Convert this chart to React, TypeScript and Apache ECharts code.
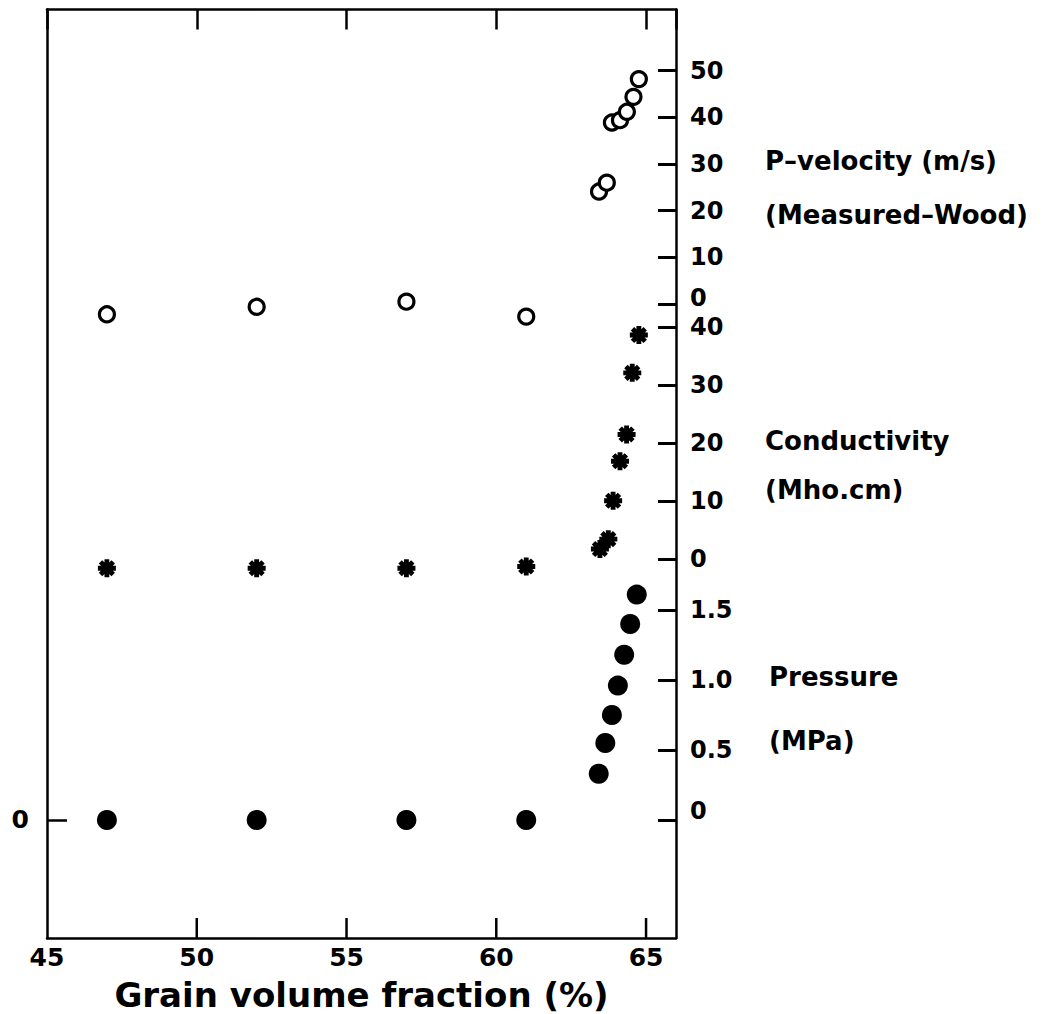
import React, { useEffect, useRef } from "react";
import * as echarts from "echarts";

// ---- axis ticks / labels ----
const X_LABELS = [45, 50, 55, 60, 65];
const X_INNER_TICKS = [50, 55, 60, 65];
const LEFT_TICKS = [0];
const PRESSURE_TICKS = [0, 0.5, 1.0, 1.5];
const COND_TICKS = [0, 10, 20, 30, 40];
const VEL_TICKS = [0, 10, 20, 30, 40, 50];

// ---- data ----
// plateau points (grain volume fraction %)
const plateauX = [47, 52, 57, 61];
const pressurePlateau = [0, 0, 0, 0];
const condPlateau = [-1.5, -1.5, -1.5, -1.2];
const velPlateau = [-2.2, -0.6, 0.5, -2.7];

// rising points
const pressureX = [63.42, 63.64, 63.86, 64.06, 64.27, 64.47, 64.69];
const pressureY = [0.33, 0.55, 0.75, 0.96, 1.18, 1.4, 1.61];

const condX = [63.46, 63.74, 63.9, 64.13, 64.35, 64.54, 64.76];
const condY = [1.8, 3.5, 10.1, 16.9, 21.5, 32.1, 38.6];

const velX = [63.43, 63.69, 63.86, 64.13, 64.36, 64.58, 64.76];
const velY = [24.1, 26.0, 38.9, 39.4, 41.2, 44.4, 48.2];

// ---- panel labels ----
const VEL_NAME = ["P–velocity (m/s)", "(Measured–Wood)"];
const COND_NAME = ["Conductivity", "(Mho.cm)"];
const PRESS_NAME = ["Pressure", "(MPa)"];
const X_NAME = "Grain volume fraction (%)";

const FONT = "DejaVu Sans";

function asteriskPath(): string {
  const L = 10;
  const W = 2.7;
  const parts: string[] = [];
  [0, 45, 90, 135].forEach((deg) => {
    const a = (deg * Math.PI) / 180;
    const c = Math.cos(a);
    const s = Math.sin(a);
    const pts = [
      [-L, -W],
      [L, -W],
      [L, W],
      [-L, W],
    ].map(([x, y]) => [x * c - y * s, x * s + y * c]);
    parts.push(
      "M" +
        pts.map((p) => p[0].toFixed(3) + "," + p[1].toFixed(3)).join("L") +
        "Z"
    );
  });
  return "path://" + parts.join("");
}

function zip(xs: number[], ys: number[]) {
  return xs.map((x, i) => [x, ys[i]]);
}

export default function App() {
  const ref = useRef<HTMLDivElement>(null);
  useEffect(() => {
    document.body.style.margin = "0";
    if (!ref.current) return;
    const chart = echarts.init(ref.current, undefined, { renderer: "svg" });
    const black = "#000";
    const line = { show: true, onZero: false, lineStyle: { color: black, width: 2.5 } };

    const rightAxis = (
      min: number,
      max: number,
      ticks: number[],
      fmt: (v: number) => string,
      showLine: boolean,
      zeroLift: number
    ) => ({
      type: "value",
      position: "right",
      min,
      max,
      axisLine: { show: showLine, onZero: false, lineStyle: { color: black, width: 2.5 } },
      splitLine: { show: false },
      axisTick: {
        show: true,
        inside: true,
        length: 18,
        customValues: ticks,
        lineStyle: { color: black, width: 3 },
      },
      axisLabel: {
        show: true,
        customValues: ticks,
        formatter: (v: number) => (v === 0 ? "{z|0}" : fmt(v)),
        margin: 14,
        color: black,
        fontFamily: FONT,
        fontWeight: "bold",
        fontSize: 24,
        rich: {
          z: {
            color: black,
            fontFamily: FONT,
            fontWeight: "bold",
            fontSize: 24,
            padding: [0, 0, zeroLift, 0],
          },
        },
      },
    });

    const pMin = -0.843, pMax = 5.789;
    const cMin = -65.09, cMax = 94.58;
    const vMin = -135.88, vMax = 63.12;

    const textEl = (txt: string, x: number, y: number) => ({
      type: "text",
      left: x,
      top: y - 15,
      style: {
        text: txt,
        fill: black,
        font: `bold 26px "${FONT}"`,
        textVerticalAlign: "top",
      },
    });

    chart.setOption({
      animation: false,
      backgroundColor: "#fff",
      grid: {
        left: 47,
        right: 367,
        top: 9.5,
        bottom: 76,
        containLabel: false,
        outerBoundsMode: "none",
      },
      xAxis: [
        {
          type: "value",
          position: "bottom",
          min: 45,
          max: 66,
          interval: 5,
          axisLine: line,
          splitLine: { show: false },
          axisTick: { show: false },
          axisLabel: {
            customValues: X_LABELS,
            margin: 7,
            color: black,
            fontFamily: FONT,
            fontWeight: "bold",
            fontSize: 25,
          },
          name: X_NAME,
          nameLocation: "middle",
          nameGap: 40,
          nameTextStyle: {
            color: black,
            fontFamily: FONT,
            fontWeight: "bold",
            fontSize: 34,
            lineHeight: 34,
          },
        },
        {
          type: "value",
          position: "top",
          min: 45,
          max: 66,
          interval: 5,
          axisLine: line,
          splitLine: { show: false },
          axisTick: {
            show: true,
            inside: true,
            length: 20,
            lineStyle: { color: black, width: 2.5 },
          },
          axisLabel: { show: false },
        },
      ],
      yAxis: [
        {
          type: "value",
          position: "left",
          min: pMin,
          max: pMax,
          axisLine: line,
          splitLine: { show: false },
          axisTick: {
            show: true,
            inside: true,
            length: 20,
            customValues: LEFT_TICKS,
            lineStyle: { color: black, width: 2.5 },
          },
          axisLabel: {
            customValues: LEFT_TICKS,
            margin: 18,
            color: black,
            fontFamily: FONT,
            fontWeight: "bold",
            fontSize: 25,
          },
        },
        rightAxis(pMin, pMax, PRESSURE_TICKS, (v) => v.toFixed(1), true, 18),
        rightAxis(cMin, cMax, COND_TICKS, (v) => String(v), false, 0),
        rightAxis(vMin, vMax, VEL_TICKS, (v) => String(v), false, 12),
      ],
      series: [
        {
          type: "scatter",
          name: "Pressure",
          xAxisIndex: 0,
          yAxisIndex: 1,
          symbol: "circle",
          symbolSize: 20,
          itemStyle: { color: black, opacity: 1 },
          data: [...zip(plateauX, pressurePlateau), ...zip(pressureX, pressureY)],
        },
        {
          type: "scatter",
          name: "Conductivity",
          xAxisIndex: 0,
          yAxisIndex: 2,
          symbol: asteriskPath(),
          symbolSize: 18,
          itemStyle: { color: black, opacity: 1 },
          data: [...zip(plateauX, condPlateau), ...zip(condX, condY)],
        },
        {
          type: "scatter",
          name: "P-velocity",
          xAxisIndex: 0,
          yAxisIndex: 3,
          symbol: "circle",
          symbolSize: 15,
          itemStyle: { color: "#fff", borderColor: black, borderWidth: 3.2, opacity: 1 },
          data: [...zip(plateauX, velPlateau), ...zip(velX, velY)],
        },
        {
          // bottom inner ticks: thin rect symbols anchored on the bottom edge
          type: "scatter",
          name: "bottom-ticks",
          xAxisIndex: 0,
          yAxisIndex: 1,
          silent: true,
          clip: false,
          z: 20,
          symbol: "rect",
          symbolSize: [2.5, 20],
          symbolOffset: [0, -10],
          itemStyle: { color: black, opacity: 1 },
          data: X_INNER_TICKS.map((t) => [t, pMin]),
        },
      ],
      graphic: [
        textEl(VEL_NAME[0], 765, 163),
        textEl(VEL_NAME[1], 765, 217),
        textEl(COND_NAME[0], 765, 443),
        textEl(COND_NAME[1], 765, 492),
        textEl(PRESS_NAME[0], 769, 679),
        textEl(PRESS_NAME[1], 769, 743),
      ],
    });

    return () => chart.dispose();
  }, []);
  return <div ref={ref} style={{ width: 1043, height: 1014 }} />;
}
